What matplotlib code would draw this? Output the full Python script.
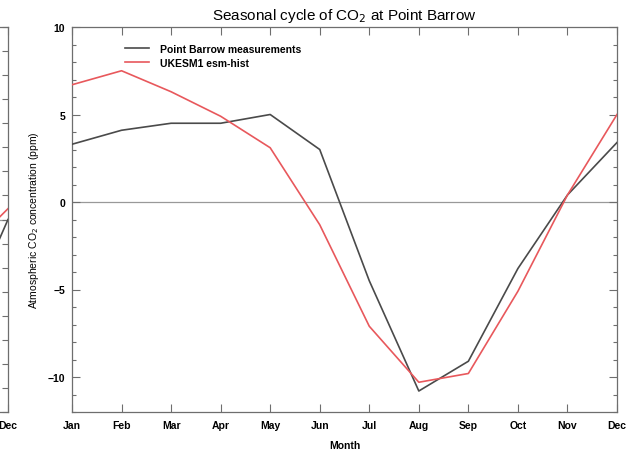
import matplotlib
matplotlib.use("Agg")
import matplotlib.pyplot as plt
from matplotlib.ticker import MultipleLocator

months = ["Jan", "Feb", "Mar", "Apr", "May", "Jun", "Jul", "Aug", "Sep", "Oct", "Nov", "Dec"]
month_num = list(range(1, 13))
point_barrow = [3.3, 4.1, 4.5, 4.5, 5.0, 3.0, -4.5, -10.8, -9.1, -3.8, 0.4, 3.4]
ukesm1 = [6.7, 7.5, 6.3, 4.9, 3.1, -1.3, -7.1, -10.3, -9.8, -5.1, 0.4, 5.0]

# partial neighbouring panel (only its Dec end is visible)
left_months = [11, 12]
left_obs = [-4.7, 0.0]
left_model = [-1.6, 0.45]

fam = ['Liberation Sans', 'DejaVu Sans']
plt.rcParams['font.family'] = fam

W, H = 641, 456
fig = plt.figure(figsize=(W / 100, H / 100), dpi=100)

gray = '#4a4a4a'
red = '#e8585c'
spine_c = '#6e6e6e'

def style(ax):
    for s in ax.spines.values():
        s.set_color(spine_c)
        s.set_linewidth(0.9)
    ax.tick_params(which='both', direction='in', top=True, right=True, colors=spine_c,
                   labelcolor='black', labelsize=7.5)
    ax.tick_params(which='major', length=6, width=0.8)
    ax.tick_params(which='minor', length=3, width=0.8)

# main panel
l, r, t, b = 72, 617, 28, 413
ax = fig.add_axes([l / W, 1 - b / H, (r - l) / W, (b - t) / H])
ax.axhline(0, color='#999999', lw=0.9, zorder=1)
ax.plot(month_num, point_barrow, color=gray, lw=1.2, label='Point Barrow measurements', zorder=3)
ax.plot(month_num, ukesm1, color=red, lw=1.2, label='UKESM1 esm-hist', zorder=3)
ax.set_xlim(1, 12)
ax.set_ylim(-12, 10)
ax.set_xticks(month_num)
ax.set_xticklabels(months, fontweight='bold')
ax.yaxis.set_major_locator(MultipleLocator(5))
ax.yaxis.set_minor_locator(MultipleLocator(1))
for lab in ax.get_yticklabels():
    lab.set_fontweight('bold')
style(ax)
ax.tick_params(axis='x', pad=6)
ax.tick_params(axis='y', pad=5)
ax.set_title('Seasonal cycle of CO$_2$ at Point Barrow', fontsize=11, pad=6)
ax.set_xlabel('Month', fontsize=7.5, fontweight='bold', labelpad=7)
ax.set_ylabel('Atmospheric CO$_2$ concentration (ppm)', fontsize=7.5, labelpad=5)
leg = ax.legend(loc='upper left', bbox_to_anchor=(0.08, 0.98), frameon=False, fontsize=7.5,
                handlelength=2.3, handletextpad=1.1, labelspacing=0.35)
for txt in leg.get_texts():
    txt.set_fontweight('bold')

# partial left panel (cut off by the figure edge)
lr = 8
axl = fig.add_axes([(lr - (r - l)) / W, 1 - b / H, (r - l) / W, (b - t) / H])
axl.axhline(0, color='#999999', lw=0.9, zorder=1)
axl.plot(left_months, left_obs, color=gray, lw=1.2)
axl.plot(left_months, left_model, color=red, lw=1.2)
axl.set_xlim(1, 12)
axl.set_ylim(-8, 8)
axl.set_xticks(month_num)
axl.set_xticklabels([''] * 11 + [months[-1]], fontweight='bold')
axl.yaxis.set_major_locator(MultipleLocator(1))
axl.set_yticklabels([])
style(axl)
axl.tick_params(axis='x', pad=6)
axl.tick_params(axis='y', which='major', length=4)

fig.savefig('out.png', dpi=100)
